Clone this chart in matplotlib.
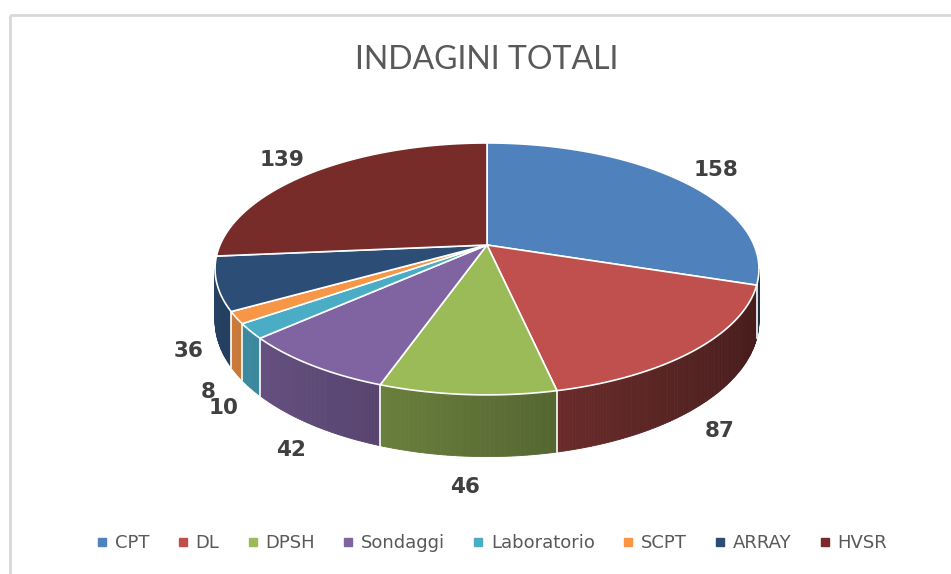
import numpy as np
import matplotlib.pyplot as plt
from matplotlib.patches import Polygon, Rectangle
from matplotlib.lines import Line2D

# data
categories = ['CPT', 'DL', 'DPSH', 'Sondaggi', 'Laboratorio', 'SCPT', 'ARRAY', 'HVSR']
values = [158, 87, 46, 42, 10, 8, 36, 139]
colors = ['#4F81BD', '#C0504D', '#9BBB59', '#8064A2', '#4BACC6', '#F79646', '#2C4D75', '#772C2A']
title = 'INDAGINI TOTALI'

# 3d pie geometry (pixels)
W, Hpx = 951, 574
cx, cy = 487, 245     # projected centre
R, B = 267, 121.4     # horizontal / depth radius
A = 0.19              # perspective strength
THICK = 50            # wall height


def proj(theta, k=1.0, h=0.0):
    X = k * np.sin(theta)
    Z = -k * np.cos(theta)
    f = 1.0 / (1.0 - A * Z)
    return cx + R * X * f, cy + (B * Z + THICK * h) * f


def shade(c, fac):
    rgb = np.array(plt.matplotlib.colors.to_rgb(c))
    return tuple(np.clip(rgb * fac, 0, 1))


fig = plt.figure(figsize=(W / 100, Hpx / 100), dpi=100)
ax = fig.add_axes([0, 0, 1, 1])
ax.set_xlim(0, W)
ax.set_ylim(Hpx, 0)
ax.axis('off')

# chart border
ax.add_patch(Rectangle((10, 15), W + 20, Hpx + 20, fill=False,
                       edgecolor='#D9D9D9', linewidth=2))

total = float(sum(values))
bounds = np.concatenate([[0], np.cumsum(values)]) / total * 2 * np.pi

# silhouette of the rim: the wall is only seen between these two angles
sil_r = np.arccos(-A)
sil_l = 2 * np.pi - sil_r

# walls: small quads sorted back to front
quads = []
for i, c in enumerate(colors):
    t0, t1 = max(bounds[i], sil_r), min(bounds[i + 1], sil_l)
    if t1 <= t0:
        continue
    n = max(int((t1 - t0) / 0.01), 2)
    ts = np.linspace(t0, t1, n + 1)
    for a, b in zip(ts[:-1], ts[1:]):
        xa, ya = proj(a)
        xb, yb = proj(b)
        xa2, ya2 = proj(a, h=1)
        xb2, yb2 = proj(b, h=1)
        m = 0.5 * (a + b)
        depth = -np.cos(m)
        fac = 0.6 - 0.25 * np.sin(m)
        quads.append((depth, [(xa, ya), (xb, yb), (xb2, yb2), (xa2, ya2)], shade(c, fac)))
quads.sort(key=lambda q: q[0])
for depth, pts, col in quads:
    ax.add_patch(Polygon(pts, closed=True, facecolor=col, edgecolor=col, linewidth=0.6))

# white seams on the walls
for t in bounds[1:-1]:
    if sil_r + 0.05 < t < sil_l - 0.05:
        x1, y1 = proj(t)
        x2, y2 = proj(t, h=1)
        ax.plot([x1, x2], [y1, y2], color='white', linewidth=1.2)

# top faces
for i, c in enumerate(colors):
    ts = np.linspace(bounds[i], bounds[i + 1], 200)
    xs, ys = proj(ts)
    pts = [(cx, cy)] + list(zip(xs, ys))
    ax.add_patch(Polygon(pts, closed=True, facecolor=c, edgecolor='white', linewidth=1.2))

# data labels
for i, v in enumerate(values):
    m = 0.5 * (bounds[i] + bounds[i + 1])
    if -np.cos(m) < 0:
        lx, ly = proj(m, k=1.2)
    else:
        lx, ly = proj(m, k=1.1, h=1)
        ly += 10
    ax.text(lx, ly, str(v), ha='center', va='center', fontsize=15.5,
            fontweight='bold', color='#404040')

ax.text(487, 60, title, ha='center', va='center', fontsize=23,
        color='#595959', family=['Lato', 'DejaVu Sans'], fontweight='normal')

handles = [Line2D([], [], marker='s', linestyle='none', markersize=6,
                  markerfacecolor=c, markeredgecolor=c) for c in colors]
fig.legend(handles, categories, loc='center', bbox_to_anchor=(492 / W, 1 - 543 / Hpx),
           ncol=8, frameon=False, fontsize=13, labelcolor='#595959',
           handlelength=0.6, handletextpad=0.4, columnspacing=1.55)

fig.savefig('out.png', dpi=100)
